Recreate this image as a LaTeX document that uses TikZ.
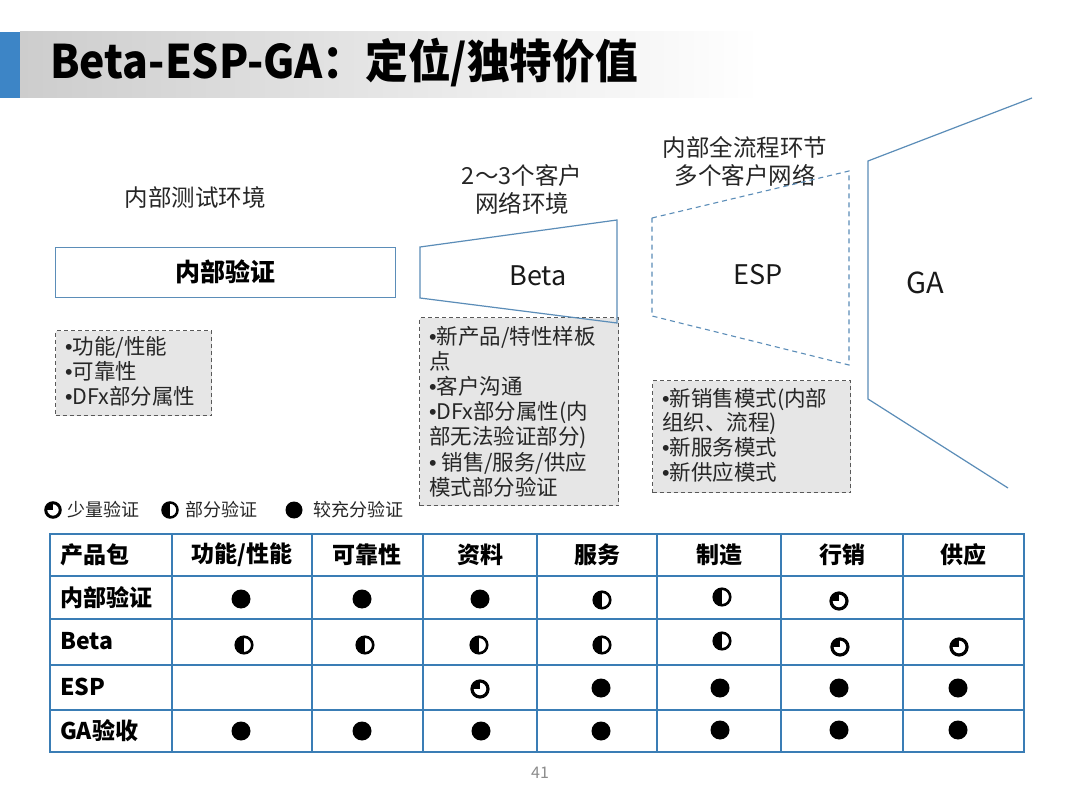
\documentclass[tikz,border=0pt]{standalone}
\usepackage{fontspec}
\setmainfont{Noto Sans CJK SC}
\newfontfamily\bulfont{Liberation Sans}
\newcommand\bul{{\bulfont •}}
\definecolor{barblue}{HTML}{3D85C6}
\definecolor{boxblue}{HTML}{5B8DB8}
\definecolor{tblblue}{HTML}{3A7DB5}
\definecolor{descgray}{HTML}{E6E6E6}
\definecolor{bargray}{HTML}{CDCDCD}
\tikzset{
  lbl/.style={font=\fontsize{23.5}{28}\selectfont, inner sep=0, text=black!85},
  desc/.style={font=\fontsize{21.5}{25}\selectfont, anchor=base west, inner sep=0, text=black!85},
  descbox/.style={draw=black!65, dash pattern=on 4pt off 3pt, fill=descgray, line width=1.1pt, anchor=north west, inner sep=0},
  stage/.style={draw=boxblue, line width=1.2pt},
  stagetext/.style={font=\fontsize{27}{27}\selectfont, inner sep=0, text=black!90},
  tbl/.style={draw=tblblue, line width=1.6pt},
  thead/.style={font=\fontsize{23}{23}\selectfont\bfseries, inner sep=0},
  legend/.style={font=\fontsize{18}{18}\selectfont, inner sep=0, anchor=west, text=black!85},
  full/.style={circle, fill=black, minimum size=19pt, inner sep=0},
  half/.style={circle, draw=black, line width=2.6pt, minimum size=16.5pt, inner sep=0,
    path picture={\fill[black] (path picture bounding box.south west) rectangle (path picture bounding box.north);}},
  quarter/.style={circle, draw=black, line width=3.2pt, minimum size=16pt, inner sep=0,
    path picture={\fill[black] (path picture bounding box.center) rectangle (path picture bounding box.north west);}},
}
\newcommand\dline[4]{\node[desc] (#1) at (#2,#3) {#4};}
\begin{document}
\begin{tikzpicture}[x=1pt,y=-1pt]
\useasboundingbox (0,0) rectangle (1080,810);
\fill[white] (0,0) rectangle (1080,810);
% title bar
\shade[left color=bargray, right color=white] (20,32) rectangle (760,98);
\fill[barblue] (0,32) rectangle (20,98);
\node[anchor=base west, font=\fontsize{44}{44}\selectfont\bfseries, inner sep=0] (title) at (50,79) {\scalebox{0.97}[1.05]{Beta-ESP-GA：定位/独特价值}};

% top labels
\node[lbl] (envin) at (195,198) {内部测试环境};
\node[lbl, align=center] (envbeta) at (522,190) {2～3个客户\\网络环境};
\node[lbl, align=center] (envesp) at (745,162) {内部全流程环节\\多个客户网络};

% description boxes
\node[descbox, minimum width=156pt, minimum height=85pt] (dIn) at (55,330) {};
\dline{dIn1}{65}{355}{\bul 功能/性能}
\dline{dIn2}{65}{380}{\bul 可靠性}
\dline{dIn3}{65}{405}{\bul DFx部分属性}

\node[descbox, minimum width=199pt, minimum height=188pt] (dBeta) at (419,317) {};
\dline{dB1}{429}{345}{\bul 新产品/特性样板}
\dline{dB2}{429}{370}{点}
\dline{dB3}{429}{395}{\bul 客户沟通}
\dline{dB4}{429}{420}{\bul DFx部分属性(内}
\dline{dB5}{429}{445}{部无法验证部分)}
\dline{dB6}{429}{471}{\bul\ 销售/服务/供应}
\dline{dB7}{429}{496}{模式部分验证}

\node[descbox, minimum width=198pt, minimum height=112pt] (dEsp) at (652,380) {};
\dline{dE1}{662}{407}{\bul 新销售模式(内部}
\dline{dE2}{662}{431}{组织、流程)}
\dline{dE3}{662}{456}{\bul 新服务模式}
\dline{dE4}{662}{481}{\bul 新供应模式}

% stage shapes
\node[stage, minimum width=340pt, minimum height=50pt, inner sep=0, anchor=north west] (inbox) at (55,247) {};
\node[font=\fontsize{25}{25}\selectfont\bfseries, inner sep=0] (intext) at (225,272) {内部验证};
\draw[stage] (420,247) -- (617,220) -- (617,323) -- (420,298) -- cycle;
\node[stagetext] (beta) at (538,276) {Beta};
\draw[stage, dash pattern=on 5pt off 4pt, line width=1.1pt] (652,218) -- (849,171) -- (849,365) -- (652,316) -- cycle;
\node[stagetext] (esp) at (758,275) {ESP};
\draw[stage] (1032,98) -- (868,161) -- (868,399) -- (1008,488);
\node[stagetext, font=\fontsize{29}{29}\selectfont] (ga) at (925,283) {GA};

% legend
\node[quarter, minimum size=14.5pt, line width=3pt] (lq) at (53,510) {};
\node[legend] (lqt) at (67,510) {少量验证};
\node[half, minimum size=15pt, line width=2.5pt] (lh) at (170,510) {};
\node[legend] (lht) at (185,510) {部分验证};
\node[full, minimum size=17pt] (lf) at (294,510) {};
\node[legend] (lft) at (313,510) {较充分验证};

% table grid
\draw[tbl] (50,534) rectangle (1024,752);
\foreach \yy in {576,619,665,710} \draw[tbl] (50,\yy) -- (1024,\yy);
\foreach \xx in {172,312,423,537,657,781,903} \draw[tbl] (\xx,534) -- (\xx,752);

% header
\node[thead, anchor=west] (h0) at (60,555) {产品包};
\node[thead] (h1) at (242,555) {功能/性能};
\node[thead] (h2) at (367,555) {可靠性};
\node[thead] (h3) at (480,555) {资料};
\node[thead] (h4) at (597,555) {服务};
\node[thead] (h5) at (719,555) {制造};
\node[thead] (h6) at (842,555) {行销};
\node[thead] (h7) at (963,555) {供应};
% row labels
\node[thead, anchor=west] (r1) at (60,598) {内部验证};
\node[thead, anchor=west] (r2) at (60,641) {Beta};
\node[thead, anchor=west] (r3) at (60,687) {ESP};
\node[thead, anchor=west] (r4) at (60,731) {GA验收};

% row 1
\node[full] (a1) at (241,599) {};
\node[full] (a2) at (362,599) {};
\node[full] (a3) at (480,599) {};
\node[half] (a4) at (602,600) {};
\node[half] (a5) at (722,597) {};
\node[quarter] (a6) at (839,601) {};
% row 2
\node[half] (b1) at (244,645) {};
\node[half] (b2) at (365,645) {};
\node[half] (b3) at (479,645) {};
\node[half] (b4) at (602,645) {};
\node[half] (b5) at (722,641) {};
\node[quarter] (b6) at (840,647) {};
\node[quarter] (b7) at (959,647) {};
% row 3
\node[quarter] (c3) at (480,689) {};
\node[full] (c4) at (601,688) {};
\node[full] (c5) at (720,688) {};
\node[full] (c6) at (839,688) {};
\node[full] (c7) at (958,688) {};
% row 4
\node[full] (d1) at (241,731) {};
\node[full] (d2) at (362,731) {};
\node[full] (d3) at (481,731) {};
\node[full] (d4) at (601,731) {};
\node[full] (d5) at (720,730) {};
\node[full] (d6) at (839,730) {};
\node[full] (d7) at (958,730) {};

% page number
\node[font=\fontsize{16}{16}\selectfont, text=black!45, inner sep=0] (page) at (540,773) {41};
\end{tikzpicture}
\end{document}
